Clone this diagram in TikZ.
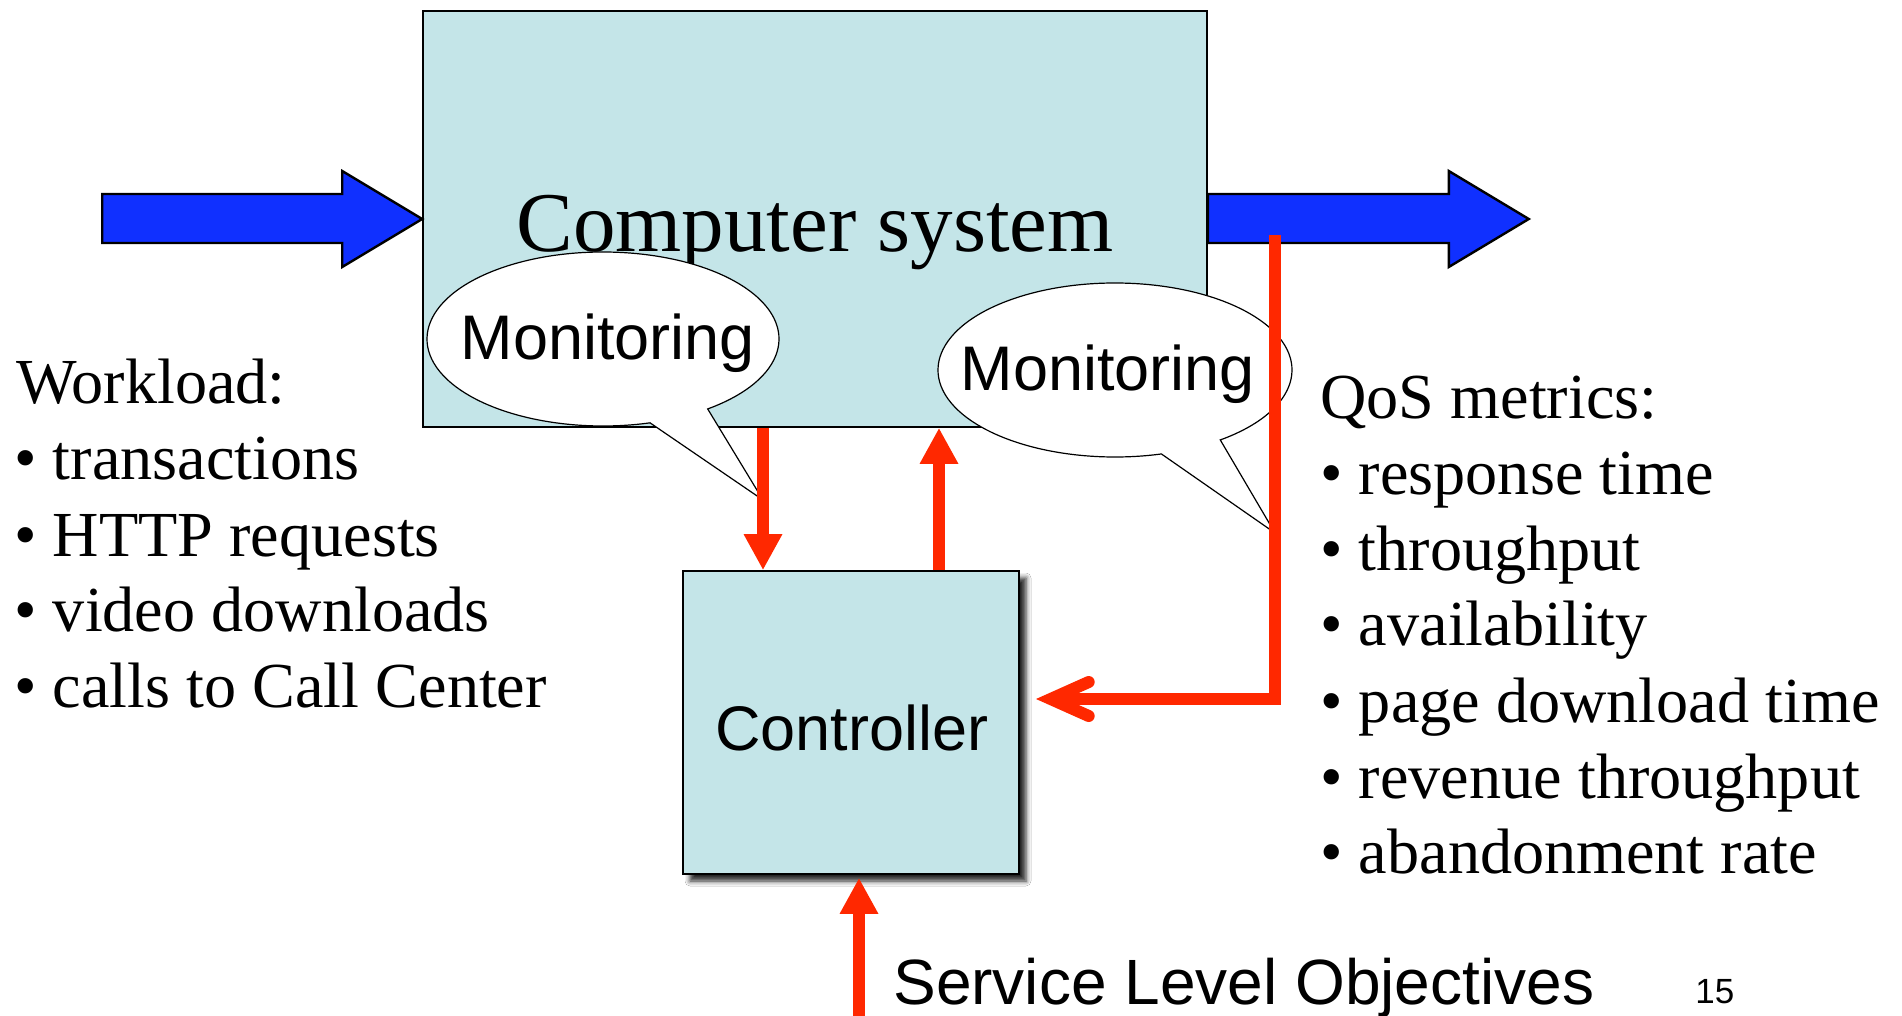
\documentclass[tikz,border=0pt]{standalone}
\usepackage{fontspec}
\setmainfont{Liberation Serif}
\setsansfont{Liberation Sans}
\usetikzlibrary{arrows.meta,shadows.blur}
\definecolor{boxfill}{RGB}{196,229,232}
\definecolor{bluefill}{RGB}{16,48,255}
\definecolor{redc}{RGB}{255,40,0}
\tikzset{
  blockbox/.style={draw=black, line width=0.8pt, fill=boxfill, inner sep=0pt},
  seriftxt/.style={inner sep=0pt, anchor=base west, font=\fontsize{32.1pt}{38.5pt}\selectfont},
  sanstxt/.style={inner sep=0pt, anchor=base, font=\sffamily\fontsize{31.5pt}{37.8pt}\selectfont},
  bubble/.style={draw=black, line width=0.6pt, fill=white, line join=miter},
  bluearrow/.style={draw=black, line width=1.2pt, fill=bluefill, line join=miter},
  redline/.style={draw=redc, line width=6pt},
  redtip/.style={redline, -{Triangle[length=18pt,width=18pt]}},
  redbarb/.style={redline, line join=miter, -{Straight Barb[length=19pt,width=17pt,line cap=round]}}
}
\begin{document}
\begin{tikzpicture}[x=0.5pt,y=-0.5pt]
\useasboundingbox (0,0) rectangle (1902,1016);
\fill[white] (0,0) rectangle (1902,1016);

% main blocks
\node[blockbox, minimum width=392pt, minimum height=208pt] (sys) at (815,219) {};
\node[inner sep=0pt, anchor=base, font=\fontsize{42.5pt}{50pt}\selectfont] (systxt) at (815,252) {Computer system};
\node[blockbox, minimum width=168pt, minimum height=151.5pt,
      blur shadow={shadow xshift=3.5pt, shadow yshift=-3.5pt, shadow blur radius=2.5pt, shadow opacity=85}] (ctrl) at (851,722.5) {};
\node[sanstxt] (ctrltxt) at (852,750) {Controller};

% monitoring bubbles
\coordinate (mon1c) at (603,339);
\coordinate (mon1tip) at (763,500);
\draw[bubble] (mon1c) ++(53.5:176 and 87) arc[start angle=53.5, end angle=-285.5, x radius=176, y radius=87] -- (mon1tip) -- cycle;
\node[sanstxt] (mon1) at (608,359) {Monitoring};

\coordinate (mon2c) at (1115,370);
\coordinate (mon2tip) at (1275,533);
\draw[bubble] (mon2c) ++(53.5:177 and 87) arc[start angle=53.5, end angle=-285.2, x radius=177, y radius=87] -- (mon2tip) -- cycle;
\node[sanstxt] (mon2) at (1108,391) {Monitoring};

% blue flow arrows
\draw[bluearrow] (sys.west) -- ++(-80,-48) -- ++(0,23) -- ++(-240,0) -- ++(0,49) -- ++(240,0) -- ++(0,24) -- cycle;
\draw[bluearrow] (sys.east) ++(0,-25) -- ++(241,0) -- ++(0,-23) -- ++(80,48) -- ++(-80,48) -- ++(0,-24) -- ++(-241,0) -- cycle;

% red control arrows
\coordinate (dcol) at (763,0);
\coordinate (ucol) at (939,0);
\coordinate (scol) at (859,0);
\coordinate (tap) at (1275,235);
\coordinate (fbk) at (1036,699);
\coordinate (sloend) at (859,1016);
\draw[redtip] (sys.south -| dcol) -- (ctrl.north -| dcol);
\draw[redtip] (ctrl.north -| ucol) -- (sys.south -| ucol);
\draw[redbarb] (tap) |- (fbk);
\draw[redtip] (sloend) -- ([yshift=-1.5pt]ctrl.south -| scol);

% workload text
\node[seriftxt] (w0) at (16,403) {Workload:};
\node[seriftxt] (w1) at (14,479) {• transactions};
\node[seriftxt] (w2) at (14,556) {• HTTP requests};
\node[seriftxt] (w3) at (14,631) {• video downloads};
\node[seriftxt] (w4) at (14,707) {• calls to Call Center};

% QoS text
\node[seriftxt] (q0) at (1320,418) {QoS metrics:};
\node[seriftxt] (q1) at (1320,494) {• response time};
\node[seriftxt] (q2) at (1320,570) {• throughput};
\node[seriftxt] (q3) at (1320,645) {• availability};
\node[seriftxt] (q4) at (1320,722) {• page download time};
\node[seriftxt] (q5) at (1320,798) {• revenue throughput};
\node[seriftxt] (q6) at (1320,873) {• abandonment rate};

% bottom labels
\node[inner sep=0pt, anchor=base west, font=\sffamily\fontsize{32pt}{38pt}\selectfont] (slo) at (893,1004) {Service Level Objectives};
\node[inner sep=0pt, anchor=base west, font=\sffamily\fontsize{17.5pt}{21pt}\selectfont] (pgno) at (1695,1003) {15};
\end{tikzpicture}
\end{document}
